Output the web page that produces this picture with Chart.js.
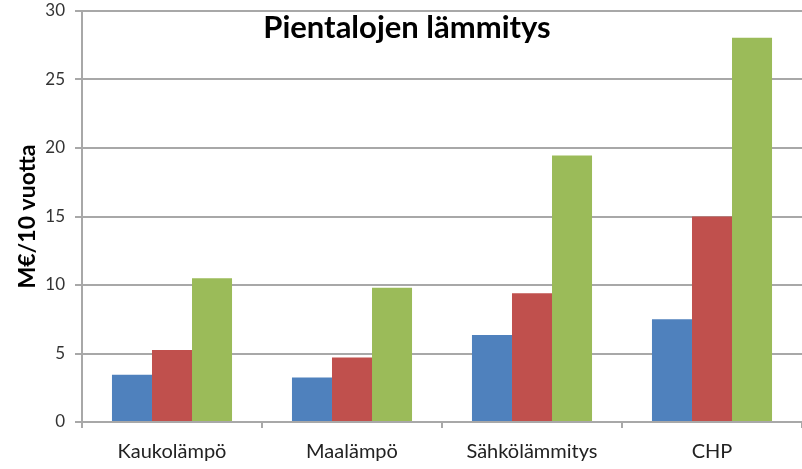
<!DOCTYPE html>
<html>
<head>
<meta charset="utf-8">
<script src="https://cdn.jsdelivr.net/npm/chart.js@4/dist/chart.umd.min.js"></script>
<style>
  html, body { margin: 0; padding: 0; background: #fff; }
  #wrap { width: 802px; height: 469px; }
</style>
</head>
<body>
<div id="wrap"><canvas id="c" width="802" height="469"></canvas></div>
<script>
const categories = ['Kaukolämpö', 'Maalämpö', 'Sähkölämmitys', 'CHP'];
const seriesBlue = [3.45, 3.25, 6.35, 7.5];
const seriesRed = [5.25, 4.7, 9.4, 15.0];
const seriesGreen = [10.5, 9.8, 19.45, 28.05];
const yTicks = [0, 5, 10, 15, 20, 25, 30];
const chartTitle = 'Pientalojen lämmitys';
const yTitle = 'M€/10 vuotta';

const FONT = 'Lato, "Noto Sans", sans-serif';
const GRID = '#a8a8a8';

const titlePlugin = {
  id: 'innerTitle',
  afterDraw(chart) {
    const ctx = chart.ctx;
    ctx.save();
    ctx.font = 'bold 31px ' + FONT;
    ctx.fillStyle = '#000';
    ctx.textAlign = 'center';
    ctx.textBaseline = 'alphabetic';
    ctx.fillText(chartTitle, 407, 38);
    ctx.restore();
  }
};

new Chart(document.getElementById('c'), {
  type: 'bar',
  data: {
    labels: categories,
    datasets: [
      { data: seriesBlue, backgroundColor: '#4F81BD' },
      { data: seriesRed, backgroundColor: '#C0504D' },
      { data: seriesGreen, backgroundColor: '#9BBB59' }
    ]
  },
  options: {
    responsive: false,
    animation: false,
    devicePixelRatio: 1,
    layout: { padding: { top: 11, right: 0, bottom: 0, left: 0 } },
    plugins: { legend: { display: false }, title: { display: false }, tooltip: { enabled: false } },
    datasets: { bar: { categoryPercentage: 0.667, barPercentage: 1.0 } },
    scales: {
      x: {
        grid: { display: true, drawOnChartArea: false, drawTicks: true, tickLength: 6, offset: true, color: GRID, lineWidth: 2 },
        border: { display: true, color: GRID, width: 2 },
        ticks: { color: '#222', font: { family: FONT, size: 20 }, padding: 12, maxRotation: 0 },
        afterFit(scale) { scale.height = 47; scale.paddingLeft = 0; scale.paddingRight = 0; }
      },
      y: {
        min: 0, max: 30,
        afterBuildTicks(scale) { scale.ticks = yTicks.map(v => ({ value: v })); },
        grid: { color: GRID, lineWidth: 2, drawTicks: true, tickLength: 7 },
        border: { display: true, color: GRID, width: 2 },
        ticks: { color: '#333', font: { family: FONT, size: 17 }, padding: 10 },
        title: { display: true, text: yTitle, color: '#000', font: { family: FONT, size: 23, weight: 'bold' }, padding: { top: 14, bottom: 0 } },
        afterFit(scale) { scale.width = 82; scale.paddingTop = 0; scale.paddingBottom = 0; }
      }
    }
  },
  plugins: [titlePlugin]
});
</script>
</body>
</html>
